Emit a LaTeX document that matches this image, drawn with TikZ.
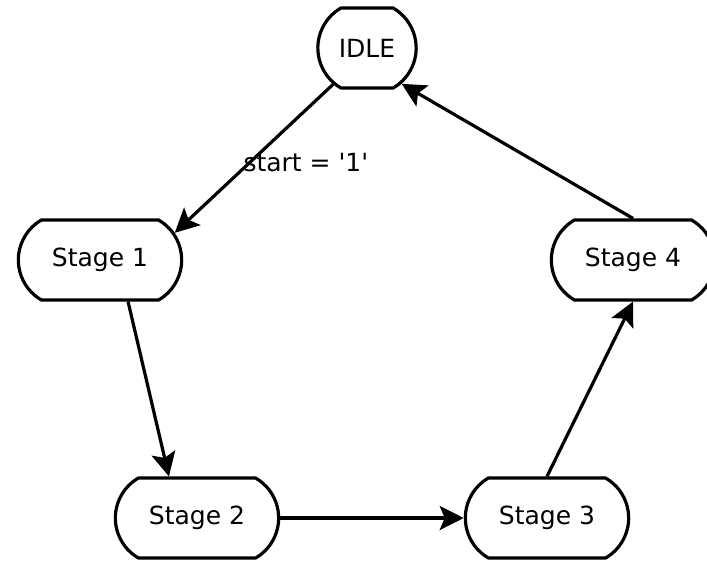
\documentclass[tikz,border=0pt]{standalone}
\usepackage{fontspec}
\setmainfont{DejaVu Sans}
\usetikzlibrary{shapes.misc,arrows.meta}

\begin{document}
\begin{tikzpicture}[
            x=1pt, y=-1pt,
            statenode/.style={
            draw,
            rounded rectangle,
            rounded rectangle arc length=120,
            line width=3.2pt,
            minimum height=80pt,
            minimum width=170pt,
            font=\fontsize{25}{30}\selectfont
            },
            every edge/.append style={line width=3.2pt},
            >={Stealth[length=24pt,width=24pt,inset=5pt]}
            ]
            \useasboundingbox (0,0) rectangle (707,560);
            \node[statenode,minimum width=105pt] (idle) at (367,48) {IDLE};
            \node[statenode] (st1) at (100,260) {Stage 1};
            \node[statenode] (st2) at (197,518) {Stage 2};
            \node[statenode] (st3) at (547,518) {Stage 3};
            \node[statenode] (st4) at (633,260) {Stage 4};
            \path[->]
            (idle.227) edge node[midway,anchor=west,inner sep=0pt,xshift=-12pt,yshift=-4pt,font=\fontsize{25}{30}\selectfont] {start = \textquotesingle1\textquotesingle} (st1.20)
            (st1.-56) edge (st2.124)
            (st2.east) edge (st3.west)
            (st3.north) edge (st4.south)
            (st4.north) edge (idle.-46);
        \end{tikzpicture}
\end{document}
